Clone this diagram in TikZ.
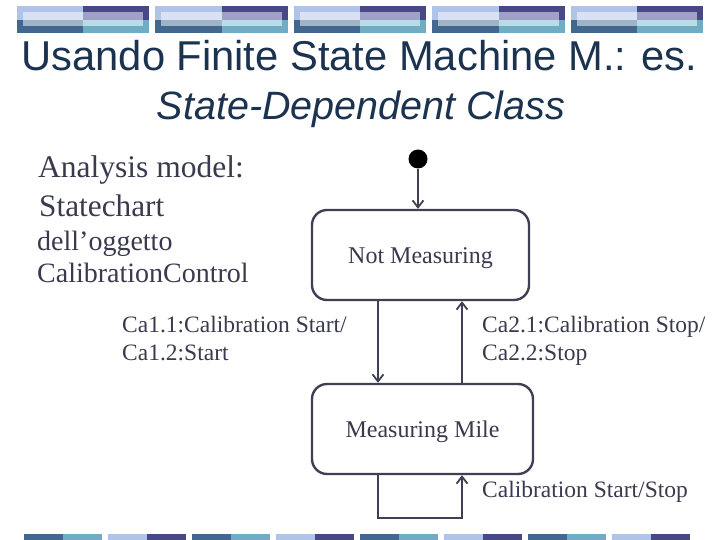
\documentclass[tikz,border=0pt]{standalone}
\usepackage{fontspec}
\setmainfont{Liberation Serif}
\newfontfamily\arialfont{Liberation Sans}
\usetikzlibrary{arrows.meta}
\definecolor{cA}{HTML}{B0C4E8}
\definecolor{cB}{HTML}{484884}
\definecolor{cC}{HTML}{426890}
\definecolor{cD}{HTML}{70ACC4}
\definecolor{cE}{HTML}{D8E2F4}
\definecolor{cF}{HTML}{A0A0C8}
\definecolor{cG}{HTML}{A0B4C8}
\definecolor{cH}{HTML}{B8DCE8}
\definecolor{titlecol}{HTML}{1C3350}
\definecolor{txtcol}{HTML}{3A3A4E}
\definecolor{linecol}{HTML}{404055}
\tikzset{
  statebox/.style={draw=linecol, line width=2.4pt, rounded corners=15pt, inner sep=0pt},
  statetxt/.style={anchor=base, inner sep=0pt, text=txtcol, font=\fontsize{24}{28}\selectfont, yshift=-8pt},
  conn/.style={draw=linecol, line width=2.2pt,
    -{Straight Barb[length=7pt,width=11pt,line width=1.8pt]}},
  lbl/.style={anchor=base west, inner sep=0pt, text=txtcol, font=\fontsize{23.5}{28}\selectfont},
  lefttxt/.style={anchor=base west, inner sep=0pt, text=txtcol},
}
\begin{document}
\begin{tikzpicture}[x=1pt,y=-1pt]
\useasboundingbox (0,0) rectangle (720,540);
% top decoration
\foreach \i in {0,...,4}{
  \pgfmathsetmacro{\xo}{16.7+138.5*\i}
  \fill[cA] (\xo,6) rectangle ++(66.3,14);
  \fill[cB] (\xo+66.3,6) rectangle ++(66.2,14);
  \fill[cC] (\xo,20) rectangle ++(66.3,13);
  \fill[cD] (\xo+66.3,20) rectangle ++(66.2,13);
  \fill[cE] (\xo+6,12) rectangle ++(60.3,8);
  \fill[cF] (\xo+66.3,12) rectangle ++(60.3,8);
  \fill[cG] (\xo+6,20) rectangle ++(60.3,6);
  \fill[cH] (\xo+66.3,20) rectangle ++(60.3,6);
}
% bottom decoration
\foreach \i in {0,...,7}{
  \pgfmathsetmacro{\xo}{24+84*\i}
  \pgfmathtruncatemacro{\odd}{mod(\i,2)}
  \ifnum\odd=0
    \fill[cC] (\xo,534) rectangle ++(39,6);
    \fill[cD] (\xo+39,534) rectangle ++(39,6);
  \else
    \fill[cA] (\xo,534) rectangle ++(39,6);
    \fill[cB] (\xo+39,534) rectangle ++(39,6);
  \fi
}
% titles
\node[anchor=base, inner sep=0pt, text=titlecol, font=\arialfont\fontsize{41.7}{50}\selectfont] (title) at (359.5,71) {Usando Finite State Machine M.: es.};
\node[anchor=base, inner sep=0pt, text=titlecol, font=\arialfont\itshape\fontsize{39.5}{47}\selectfont] (subtitle) at (361,120) {State-Dependent Class};
% left text
\node[lefttxt, font=\fontsize{31.5}{38}\selectfont] (l1) at (38,178) {Analysis model:};
\node[lefttxt, font=\fontsize{31.3}{38}\selectfont] (l2) at (39,216) {Statechart};
\node[lefttxt, font=\fontsize{28}{34}\selectfont] (l3) at (37,250) {dell’oggetto};
\node[lefttxt, font=\fontsize{28}{34}\selectfont] (l4) at (37,282) {CalibrationControl};
% states
\node[circle, fill=black, minimum size=19pt, inner sep=0pt] (init) at (418,159) {};
\node[statebox, minimum width=217pt, minimum height=90pt] (nm) at (420.5,255) {};
\node[statebox, minimum width=221pt, minimum height=90pt] (mm) at (422.5,429) {};
\node[statetxt] (nmtxt) at (nm.center) {Not Measuring};
\node[statetxt] (mmtxt) at (mm.center) {Measuring Mile};
\coordinate (ca) at (378,0);
\coordinate (cb) at (462,0);
% connectors
\draw[conn] (init) -- (init |- nm.north);
\draw[conn] (nm.south -| ca) -- (mm.north -| ca);
\draw[conn] (mm.north -| cb) -- (nm.south -| cb);
\draw[conn] (mm.south -| ca) -- ++(0,43) -| (mm.south -| cb);
% labels
\node[lbl] (t1) at (122,332) {Ca1.1:Calibration Start/};
\node[lbl] (t2) at (122,360) {Ca1.2:Start};
\node[lbl] (t3) at (482,332) {Ca2.1:Calibration Stop/};
\node[lbl] (t4) at (482,360) {Ca2.2:Stop};
\node[lbl] (t5) at (482,497) {Calibration Start/Stop};
\end{tikzpicture}
\end{document}
